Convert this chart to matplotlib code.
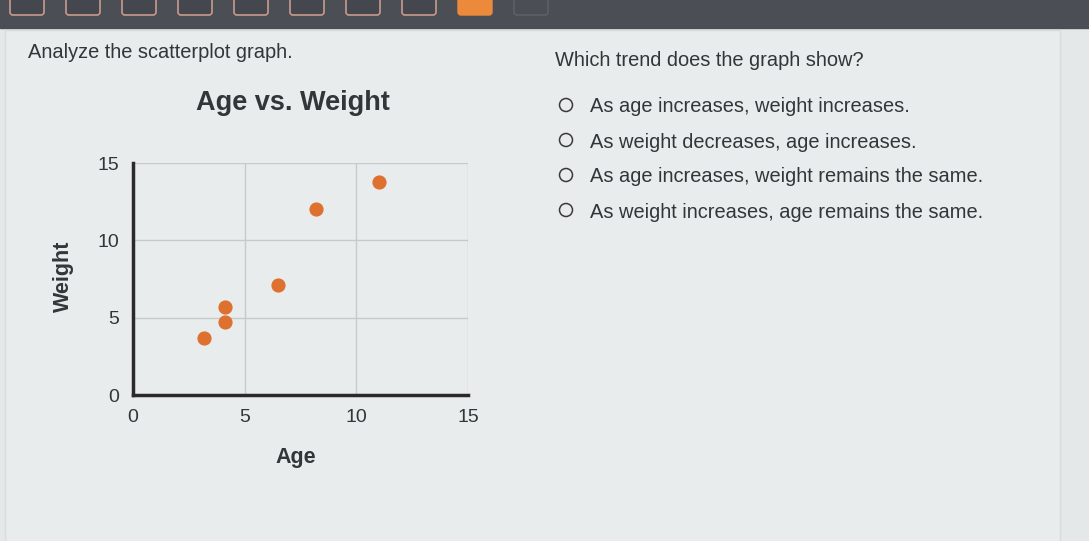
import matplotlib.pyplot as plt
from matplotlib.patches import Rectangle, Circle, FancyBboxPatch

plt.rcParams['font.family'] = ['Liberation Sans', 'DejaVu Sans']

# data
age = [3.2, 4.1, 4.1, 6.5, 8.2, 11.0]
weight = [3.7, 4.7, 5.7, 7.1, 12.0, 13.8]
ticks = [0, 5, 10, 15]

question = 'Which trend does the graph show?'
options = ['As age increases, weight increases.',
           'As weight decreases, age increases.',
           'As age increases, weight remains the same.',
           'As weight increases, age remains the same.']

W, H = 1089, 541
txt = '#333638'
fig = plt.figure(figsize=(W / 100, H / 100), dpi=100)
fig.patch.set_facecolor('#e5e8e9')

# page background in pixel coordinates
bg = fig.add_axes([0, 0, 1, 1])
bg.set_xlim(0, W)
bg.set_ylim(H, 0)
bg.axis('off')
bg.add_patch(Rectangle((0, 0), W, 28, color='#4b4f55'))
for i in range(10):
    x0 = 10 + i * 56
    if i == 8:
        bg.add_patch(FancyBboxPatch((x0, -6), 34, 21, boxstyle='round,pad=0,rounding_size=3',
                                    fc='#ec8a3c', ec='#ec8a3c'))
    elif i == 9:
        bg.add_patch(FancyBboxPatch((x0, -6), 34, 21, boxstyle='round,pad=0,rounding_size=3',
                                    fc='none', ec='#5f646a', lw=1))
    else:
        bg.add_patch(FancyBboxPatch((x0, -6), 34, 21, boxstyle='round,pad=0,rounding_size=3',
                                    fc='#44484e', ec='#c99a8a', lw=1.2))
bg.add_patch(Rectangle((5, 30), 1055, 520, fc='#e9eced', ec='#d8dcdd', lw=1))

bg.text(28, 52, 'Analyze the scatterplot graph.', fontsize=14.4, color=txt, va='center')
bg.text(555, 60, question, fontsize=14.4, color=txt, va='center')
bg.text(293, 103, 'Age vs. Weight', fontsize=19.5, fontweight='bold', color=txt,
        ha='center', va='center')
for k, opt in enumerate(options):
    y = 107 + k * 35
    bg.add_patch(Circle((566, y - 2), 6.5, fc='none', ec='#3a3a3a', lw=1.1))
    bg.text(590, y, opt, fontsize=14.4, color=txt, va='center')

bg.text(296, 458, 'Age', fontsize=15.5, fontweight='bold', color=txt,
        ha='center', va='center')
bg.text(63, 276, 'Weight', fontsize=15.5, fontweight='bold', color=txt,
        ha='center', va='center', rotation=90)

# chart
ax = fig.add_axes([133 / W, 1 - 395 / H, 335 / W, 232 / H])
ax.set_facecolor('#e9eced')
ax.scatter(age, weight, s=85, color='#de7030', zorder=3)
ax.set_xlim(0, 15)
ax.set_ylim(0, 15)
ax.set_xticks(ticks)
ax.set_yticks(ticks)
ax.grid(True, color='#c6caca', lw=1)
for s in ['top', 'right']:
    ax.spines[s].set_visible(False)
for s in ['left', 'bottom']:
    ax.spines[s].set_linewidth(2.5)
    ax.spines[s].set_color('#2a2a2a')
ax.tick_params(length=0, labelsize=14, labelcolor=txt, pad=10)

fig.savefig('out.png', dpi=100, facecolor=fig.get_facecolor())
